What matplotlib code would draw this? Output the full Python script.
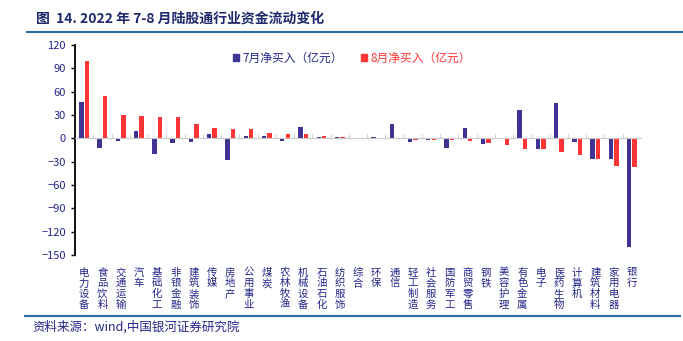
import matplotlib.pyplot as plt
from matplotlib.lines import Line2D
from matplotlib.patches import Patch
import numpy as np

plt.rcParams['font.family'] = ['Noto Sans CJK SC', 'DejaVu Sans']

# industries, sorted by August net buying
industries = ['电力设备', '食品饮料', '交通运输', '汽车', '基础化工', '非银金融', '建筑装饰',
              '传媒', '房地产', '公用事业', '煤炭', '农林牧渔', '机械设备', '石油石化',
              '纺织服饰', '综合', '环保', '通信', '轻工制造', '社会服务', '国防军工',
              '商贸零售', '钢铁', '美容护理', '有色金属', '电子', '医药生物', '计算机',
              '建筑材料', '家用电器', '银行']
jul_buy = [47, -13, -3, 10, -20, -6, -5, 5, -27.5, 3.5, 3.5, -4, 14, 2, 1.5, 0.5, 1.5,
           18, -4.5, -2.5, -13, 13, -7.5, -0.5, 37, -14, 46, -5, -26, -26, -140]
aug_buy = [100, 55, 30.5, 29, 28, 27.5, 18, 13, 12.5, 11.5, 7, 5.5, 5, 3.5, 1.5, 0.5,
           -0.5, -1, -2.5, -2.5, -2.5, -4, -6, -9, -14, -14, -17.5, -22, -26, -35, -37]
y_ticks = [120, 90, 60, 30, 0, -30, -60, -90, -120, -150]

navy = '#25258a'
blue = '#3f3494'
red = '#ff3535'

fig = plt.figure(figsize=(6.83, 3.41), dpi=100)
ax = fig.add_axes([0.1098, 0.252, 0.8287, 0.616])

x = np.arange(len(industries))
w = 0.24
ax.bar(x - 0.15, jul_buy, w, color=blue)
ax.bar(x + 0.15, aug_buy, w, color=red)

ax.set_xlim(-0.5, len(industries) - 0.5)
ax.set_ylim(-150, 120)
ax.set_yticks(y_ticks)
ax.tick_params(axis='y', colors='black', labelcolor=navy, labelsize=8, length=3, width=1)

for s in ['top', 'right']:
    ax.spines[s].set_visible(False)
ax.spines['left'].set_linewidth(1.3)
ax.spines['bottom'].set_position(('data', 0))
ax.spines['bottom'].set_color('#c8c8c8')
ax.set_xticks([])
ax.set_xticks(x[:-1] + 0.5, minor=True)
ax.tick_params(axis='x', which='minor', direction='in', length=3, color='#c8c8c8')

# vertical category labels under the plot
for i, name in enumerate(industries):
    ax.text(i, -0.06, '\n'.join(name), transform=ax.get_xaxis_transform(),
            ha='center', va='top', fontsize=7.5, color=navy, linespacing=1.08)

handles = [Patch(color=blue), Patch(color=red)]
fig.legend(handles, ['7月净买入（亿元）', '8月净买入（亿元）'], loc='center left',
           bbox_to_anchor=(0.332, 0.83), ncol=2, frameon=False, fontsize=8.5,
           labelcolor=[navy, red], handlelength=0.5, handleheight=0.5,
           handletextpad=0.3, columnspacing=1.6, borderpad=0)

fig.text(0.052, 0.946, '图  14. 2022 年 7-8 月陆股通行业资金流动变化', fontsize=10,
         fontweight='bold', color='#1f2a6e', va='center')
fig.add_artist(Line2D([0.04, 1.0], [0.906, 0.906], color='#2e6ca4', lw=1.5,
                      transform=fig.transFigure))
fig.add_artist(Line2D([0.037, 0.996], [0.073, 0.073], color='#2e6ca4', lw=1.5,
                      transform=fig.transFigure))
fig.text(0.048, 0.04, '资料来源：wind,中国银河证券研究院', fontsize=9,
         style='italic', color=navy, va='center')

fig.savefig('out.png', dpi=100)
